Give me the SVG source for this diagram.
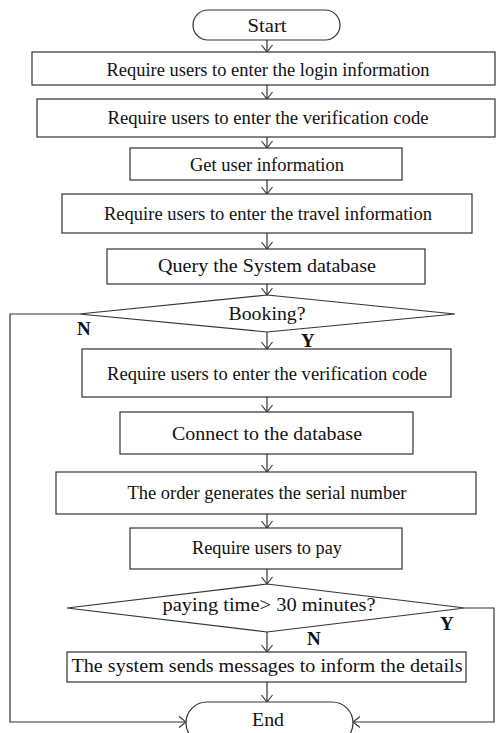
<svg xmlns="http://www.w3.org/2000/svg" width="496" height="733" viewBox="0 0 496 733">
  <defs>
    <marker id="arr" viewBox="-9 -6 10 12" markerWidth="10" markerHeight="12" refX="0" refY="0" orient="auto" markerUnits="userSpaceOnUse">
      <path d="M-7,-5.5 L0,0 L-7,5.5" fill="none" stroke="#333" stroke-width="1.1"/>
    </marker>
  </defs>
  <style>
    .shape { fill: #fff; stroke: #333; stroke-width: 1.2; }
    .line { fill: none; stroke: #333; stroke-width: 1.2; }
    .t { font-family: "Liberation Serif", "Times New Roman", serif; font-size: 19.5px; fill: #111; text-anchor: middle; }
    .lbl { font-family: "Liberation Serif", "Times New Roman", serif; font-size: 19px; font-weight: bold; fill: #111; }
  </style>
  <rect width="496" height="733" fill="#fff"/>

  <g id="connectors">
    <line class="line" x1="267" y1="40" x2="267" y2="52" marker-end="url(#arr)"/>
    <line class="line" x1="267" y1="85" x2="267" y2="99" marker-end="url(#arr)"/>
    <line class="line" x1="267" y1="137" x2="267" y2="148" marker-end="url(#arr)"/>
    <line class="line" x1="267" y1="180" x2="267" y2="194" marker-end="url(#arr)"/>
    <line class="line" x1="267" y1="233" x2="267" y2="249" marker-end="url(#arr)"/>
    <line class="line" x1="267" y1="284" x2="267" y2="295" marker-end="url(#arr)"/>
    <line class="line" x1="267" y1="332" x2="267" y2="349" marker-end="url(#arr)"/>
    <line class="line" x1="267" y1="397" x2="267" y2="412" marker-end="url(#arr)"/>
    <line class="line" x1="267" y1="454" x2="267" y2="472" marker-end="url(#arr)"/>
    <line class="line" x1="267" y1="514" x2="267" y2="528" marker-end="url(#arr)"/>
    <line class="line" x1="267" y1="569" x2="267" y2="584" marker-end="url(#arr)"/>
    <line class="line" x1="267" y1="632" x2="267" y2="652" marker-end="url(#arr)"/>
    <line class="line" x1="267" y1="682" x2="267" y2="702" marker-end="url(#arr)"/>
    <polyline class="line" points="79,314 10,314 10,722 186,722" marker-end="url(#arr)"/>
    <polyline class="line" points="465,608 494,608 494,722 353,722" marker-end="url(#arr)"/>
    <text class="lbl" x="77" y="335">N</text>
    <text class="lbl" x="301" y="347">Y</text>
    <text class="lbl" x="440" y="630">Y</text>
    <text class="lbl" x="307" y="645">N</text>
  </g>

  <g id="start">
    <rect class="shape" x="193" y="10" width="147" height="30" rx="15"/>
    <text class="t" x="267" y="32" textLength="39" lengthAdjust="spacingAndGlyphs">Start</text>
  </g>
  <g id="login">
    <rect class="shape" x="32" y="52" width="463" height="33"/>
    <text class="t" x="268" y="76" textLength="323" lengthAdjust="spacingAndGlyphs">Require users to enter the login information</text>
  </g>
  <g id="verify1">
    <rect class="shape" x="37" y="99" width="458" height="38"/>
    <text class="t" x="268" y="124" textLength="321" lengthAdjust="spacingAndGlyphs">Require users to enter the verification code</text>
  </g>
  <g id="getinfo">
    <rect class="shape" x="130" y="148" width="272" height="32"/>
    <text class="t" x="267" y="171" textLength="154" lengthAdjust="spacingAndGlyphs">Get user information</text>
  </g>
  <g id="travel">
    <rect class="shape" x="62" y="194" width="410" height="39"/>
    <text class="t" x="268" y="220" textLength="328" lengthAdjust="spacingAndGlyphs">Require users to enter the travel information</text>
  </g>
  <g id="query">
    <rect class="shape" x="107" y="249" width="318" height="35"/>
    <text class="t" x="267" y="272" textLength="218" lengthAdjust="spacingAndGlyphs">Query the System database</text>
  </g>
  <g id="booking">
    <polygon class="shape" points="267,295 455,314 267,332 79,314"/>
    <text class="t" x="267" y="320" textLength="77" lengthAdjust="spacingAndGlyphs">Booking?</text>
  </g>
  <g id="verify2">
    <rect class="shape" x="82" y="349" width="369" height="48"/>
    <text class="t" x="267" y="380" textLength="320" lengthAdjust="spacingAndGlyphs">Require users to enter the verification code</text>
  </g>
  <g id="connect">
    <rect class="shape" x="120" y="412" width="293" height="42"/>
    <text class="t" x="267" y="440" textLength="190" lengthAdjust="spacingAndGlyphs">Connect to the database</text>
  </g>
  <g id="serial">
    <rect class="shape" x="56" y="472" width="420" height="42"/>
    <text class="t" x="267" y="499" textLength="279" lengthAdjust="spacingAndGlyphs">The order generates the serial number</text>
  </g>
  <g id="pay">
    <rect class="shape" x="130" y="528" width="272" height="41"/>
    <text class="t" x="267" y="554" textLength="150" lengthAdjust="spacingAndGlyphs">Require users to pay</text>
  </g>
  <g id="timeout">
    <polygon class="shape" points="267,584 465,608 267,632 67,608"/>
    <text class="t" x="269" y="611" textLength="213" lengthAdjust="spacingAndGlyphs">paying time&gt; 30 minutes?</text>
  </g>
  <g id="notify">
    <rect class="shape" x="67" y="652" width="399" height="30"/>
    <text class="t" x="267" y="672" textLength="391" lengthAdjust="spacingAndGlyphs">The system sends messages to inform the details</text>
  </g>
  <g id="end">
    <rect class="shape" x="186" y="702" width="167" height="42" rx="21"/>
    <text class="t" x="268" y="726" textLength="32" lengthAdjust="spacingAndGlyphs">End</text>
  </g>
</svg>
